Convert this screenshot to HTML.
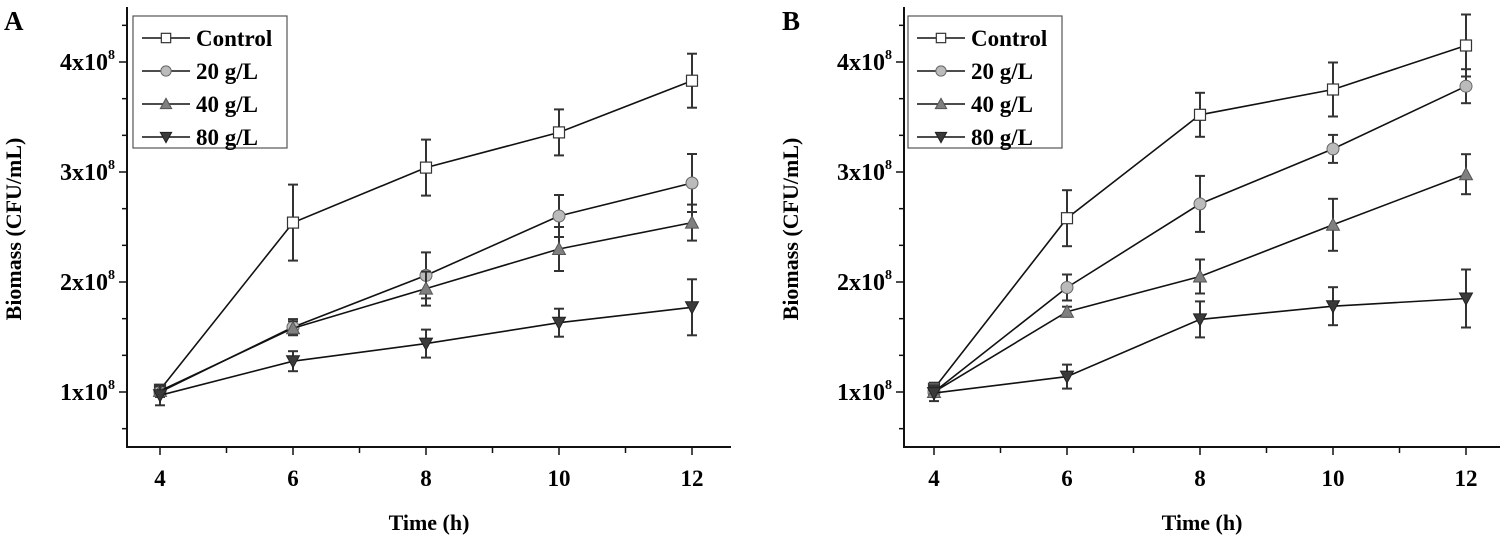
<!DOCTYPE html>
<html><head><meta charset="utf-8"><style>
html,body{margin:0;padding:0;background:#fff;}
svg{display:block;font-family:"Liberation Serif",serif;font-weight:bold;}
</style></head><body>
<svg id="s" width="1504" height="539" viewBox="0 0 1504 539" xmlns="http://www.w3.org/2000/svg"></svg>
<script>
const S=document.getElementById('s');let h='';
function panel(ax,x4,xr,lab,lx,data,legx){
  const dx=66.5, yv=v=>392-(v-1)*110, xv=t=>x4+(t-4)*dx;
  h+=`<line x1="${ax}" y1="7" x2="${ax}" y2="448" stroke="#111" stroke-width="2"/>`;
  h+=`<line x1="${ax-1}" y1="447" x2="${xr}" y2="447" stroke="#111" stroke-width="2"/>`;
  for(let t=4;t<=12;t++){const x=xv(t);h+=`<line x1="${x}" y1="447" x2="${x}" y2="${t%2?453:455}" stroke="#111" stroke-width="1.5"/>`;
    if(t%2==0)h+=`<text x="${x}" y="486" font-size="23" text-anchor="middle">${t}</text>`;}
  for(let k=-2;k<12;k++){const v=1+k/3;const y=yv(v);if(y<8||y>446)continue;
    const major=(k%3===0);
    h+=`<line x1="${ax-(major?8:5)}" y1="${y}" x2="${ax}" y2="${y}" stroke="#111" stroke-width="1.5"/>`;
    if(major)h+=`<text x="${ax-12}" y="${y+8}" font-size="24" text-anchor="end">${Math.round(v)}x10<tspan font-size="14" dy="-11">8</tspan></text>`;}
  h+=`<text x="${(ax+xr)/2}" y="530" font-size="22" text-anchor="middle">Time (h)</text>`;
  h+=`<text transform="translate(${ax-106},229) rotate(-90)" font-size="22" text-anchor="middle">Biomass (CFU/mL)</text>`;
  h+=`<text x="${lx}" y="30" font-size="27">${lab}</text>`;
  data.forEach(s=>{
    let p=s.v.map((v,i)=>`${xv(4+2*i)},${yv(v)}`).join(' ');
    h+=`<polyline points="${p}" fill="none" stroke="#111" stroke-width="1.6"/>`;
    s.v.forEach((v,i)=>{const x=xv(4+2*i),y=yv(v),e=s.e[i];
      h+=`<line x1="${x}" y1="${y-e}" x2="${x}" y2="${y+e}" stroke="#333" stroke-width="2"/><line x1="${x-5}" y1="${y-e}" x2="${x+5}" y2="${y-e}" stroke="#333" stroke-width="2"/><line x1="${x-5}" y1="${y+e}" x2="${x+5}" y2="${y+e}" stroke="#333" stroke-width="2"/>`;});
    s.v.forEach((v,i)=>{h+=marker(s.m,xv(4+2*i),yv(v));});
  });
  h+=`<rect x="${legx}" y="16" width="154" height="132" fill="#fff" stroke="#555" stroke-width="1.2"/>`;
  const names=['Control','20 g/L','40 g/L','80 g/L'],ms=['sq','ci','up','dn'];
  for(let i=0;i<4;i++){const y=38+i*33;
    h+=`<line x1="${legx+9}" y1="${y}" x2="${legx+57}" y2="${y}" stroke="#111" stroke-width="1.6"/>`+marker(ms[i],legx+33,y,0.85);
    h+=`<text x="${legx+63}" y="${y+8}" font-size="23">${names[i]}</text>`;}
}
function marker(m,x,y,sc=1){const r=5.5*sc;
  if(m=='sq')return `<rect x="${x-r}" y="${y-r}" width="${2*r}" height="${2*r}" fill="#fff" stroke="#333" stroke-width="1.2"/>`;
  if(m=='ci')return `<circle cx="${x}" cy="${y}" r="${r+0.5}" fill="#bbb" stroke="#666" stroke-width="1"/>`;
  if(m=='up')return `<polygon points="${x-r-1},${y+r} ${x+r+1},${y+r} ${x},${y-r-1}" fill="#808080" stroke="#555" stroke-width="1"/>`;
  return `<polygon points="${x-r-1},${y-r} ${x+r+1},${y-r} ${x},${y+r+1}" fill="#3a3a3a" stroke="#222" stroke-width="1"/>`;}
panel(127,160,731,'A',4,[
 {m:'sq',v:[1.02,2.54,3.04,3.36,3.83],e:[5,38,28,23,27]},
 {m:'ci',v:[1.0,1.59,2.06,2.6,2.9],e:[5,8,23,21,29]},
 {m:'up',v:[1.01,1.58,1.94,2.3,2.54],e:[5,7,17,22,18]},
 {m:'dn',v:[0.97,1.28,1.44,1.63,1.77],e:[10,10,14,14,28]}],133);
panel(904,934,1500,'B',782,[
 {m:'sq',v:[1.03,2.58,3.52,3.75,4.15],e:[6,28,22,27,31]},
 {m:'ci',v:[1.0,1.95,2.71,3.21,3.78],e:[5,13,28,14,17]},
 {m:'up',v:[1.0,1.73,2.05,2.52,2.98],e:[5,5,17,26,20]},
 {m:'dn',v:[0.99,1.14,1.66,1.78,1.85],e:[8,12,18,19,29]}],908);
S.innerHTML=h;
</script>
</body></html>
